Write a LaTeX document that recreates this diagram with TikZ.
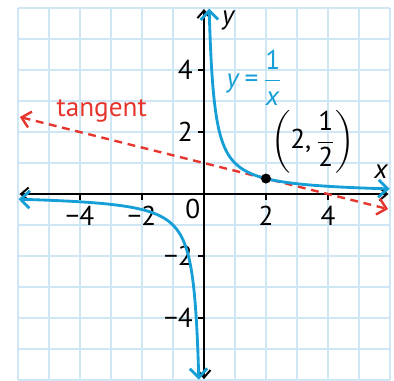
\documentclass[tikz,border=0pt]{standalone}
\usepackage{amsmath}
\usepackage{fontspec}
\setmainfont{PT Sans}
\usepackage{tikz}
\usetikzlibrary{arrows.meta,positioning}
\definecolor{gridblue}{HTML}{CFE6F4}
\definecolor{curveblue}{HTML}{159FD6}
\definecolor{tanred}{HTML}{E5352C}

\begin{document}
\begin{tikzpicture}[
        x=0.5cm,
        y=0.5cm,
        font=\fontsize{12.5}{14}\selectfont,
        grid/.style={draw=gridblue, line width=0.9pt},
        axis/.style={line width=0.9pt, black, {Straight Barb[length=3.5pt,width=6pt]}-{Straight Barb[length=3.5pt,width=6pt]}},
        curve/.style={line width=1.3pt, curveblue, {Straight Barb[length=4.2pt,width=8pt]}-{Straight Barb[length=4.2pt,width=8pt]}},
        tangent/.style={line width=1.1pt, tanred, dash pattern=on 3.6pt off 2.6pt, {Straight Barb[length=4pt,width=7.5pt]}-{Straight Barb[length=4pt,width=7.5pt]}},
        tick/.style={line width=0.9pt, black}
    ]
        \useasboundingbox (-6.58,-6.03) rectangle (6.13,6.26);

        \foreach \g in {-6,...,6} {
            \draw[grid] (\g,-6) -- (\g,6);
            \draw[grid] (-6,\g) -- (6,\g);
        }

        \coordinate (xl) at (-5.95,0);
        \coordinate (xr) at (5.95,0);
        \coordinate (yb) at (0,-5.97);
        \coordinate (yt) at (0,5.97);
        \draw[axis] (xl) -- (xr);
        \draw[axis] (yb) -- (yt);

        \foreach \t/\lab in {-4/−4,-2/−2,2/2,4/4} {
            \draw[tick] (\t,0) -- (\t,-0.2) node[below=-1pt] {\lab};
        }
        \foreach \t/\lab in {-4/−4,-2/−2,2/2,4/4} {
            \draw[tick] (0,\t) -- (-0.2,\t) node[left=-1.5pt] {\lab};
        }
        \node (origin) at (-0.36,-0.48) {0};

        \node (xlab) at (5.72,0.72) {\textit{x}};
        \node (ylab) at (0.8,5.6) {\textit{y}};

        \coordinate (ta) at (-5.94,2.485);
        \coordinate (tb) at (5.94,-0.485);
        \draw[tangent] (ta) -- (tb);
        \node[tanred] (tlab) at (-3.3,2.68) {tangent};

        \draw[curve, smooth, samples=80, domain=-1.79:1.79] plot ({exp(-\x)},{exp(\x)});
        \draw[curve, smooth, samples=80, domain=-1.79:1.79] plot ({-exp(\x)},{-exp(-\x)});
        \node[curveblue, anchor=west, inner sep=0pt] (flab) at (0.72,3.75) {\textit{y}\,=\,$\dfrac{\text{1}}{\text{\textit{x}}}$};

        \fill (2,0.5) circle (2.3pt) coordinate (pt);
        \node[anchor=south west, inner sep=1pt] (ptlab) at (2.08,0.58) {$\left(\text{2,\,}\dfrac{\text{1}}{\text{2}}\right)$};
    \end{tikzpicture}
\end{document}
